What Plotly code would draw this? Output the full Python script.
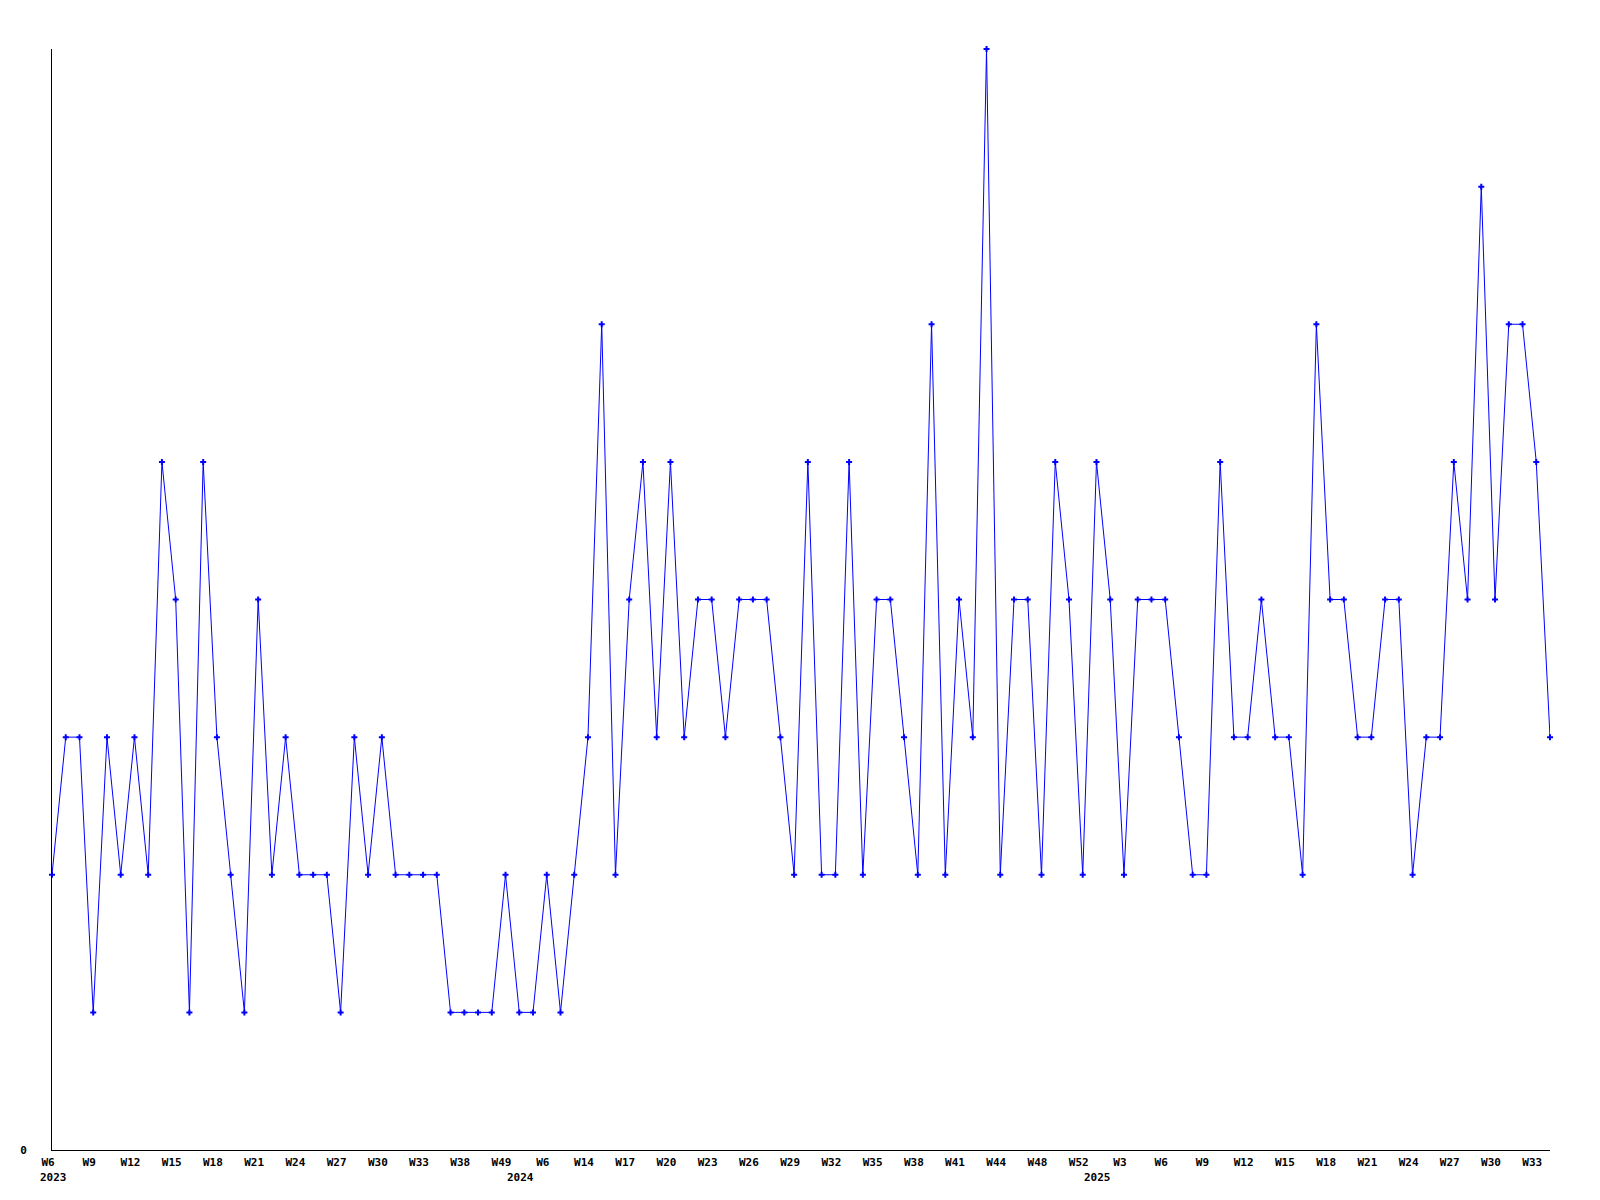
import plotly.graph_objects as go

# ---- data ----
weeks_2023 = [f"W{w}" for w in range(6, 36)] + ["W38", "W41", "W45", "W49"]
weeks_2024 = ["W1", "W3", "W6", "W9", "W11"] + [f"W{w}" for w in range(14, 45)] + ["W45", "W47", "W48", "W50", "W51", "W52"]
weeks_2025 = [f"W{w}" for w in range(1, 35)]

weeks = weeks_2023 + weeks_2024 + weeks_2025
years = ["2023"] * len(weeks_2023) + ["2024"] * len(weeks_2024) + ["2025"] * len(weeks_2025)

values = [
    2, 3, 3, 1, 3, 2, 3, 2, 5, 4,
    1, 5, 3, 2, 1, 4, 2, 3, 2, 2,
    2, 1, 3, 2, 3, 2, 2, 2, 2, 1,
    1, 1, 1, 2, 1, 1, 2, 1, 2, 3,
    6, 2, 4, 5, 3, 5, 3, 4, 4, 3,
    4, 4, 4, 3, 2, 5, 2, 2, 5, 2,
    4, 4, 3, 2, 6, 2, 4, 3, 8, 2,
    4, 4, 2, 5, 4, 2, 5, 4, 2, 4,
    4, 4, 3, 2, 2, 5, 3, 3, 4, 3,
    3, 2, 6, 4, 4, 3, 3, 4, 4, 2,
    3, 3, 5, 4, 7, 4, 6, 6, 5, 3,
]

xs = list(range(len(values)))
tick_idx = xs[::3]
tick_txt = [weeks[i] for i in tick_idx]

# first point of each year gets the year label
year_marks = []
for i, y in enumerate(years[: len(values)]):
    if i == 0 or years[i - 1] != y:
        year_marks.append((i, y))

FONT = dict(family="DejaVu Sans Mono", size=11, color="#000000", weight="bold")

fig = go.Figure()
fig.add_trace(go.Scatter(
    x=xs, y=values, mode="lines+markers",
    line=dict(color="#0000ff", width=1),
    marker=dict(symbol="cross", size=5, color="#0000ff"),
    cliponaxis=False,
    hoverinfo="skip",
))

for i, y in year_marks:
    fig.add_annotation(
        x=i, y=0, xref="x", yref="paper", text=y, showarrow=False,
        xanchor="left", yanchor="middle", xshift=-14, yshift=-27, font=FONT,
    )

# page body has an 8px margin, so the figure is sized/offset to compensate
fig.update_layout(
    width=1592, height=1192,
    margin=dict(l=42, r=50, t=41, b=50),
    paper_bgcolor="white", plot_bgcolor="white",
    showlegend=False,
    font=FONT,
)
fig.update_xaxes(
    range=[0, len(values) - 1], showgrid=False, zeroline=False,
    showline=True, linecolor="#000000", linewidth=1,
    tickmode="array", tickvals=tick_idx, ticktext=tick_txt,
    ticks="outside", ticklen=0, ticklabelstandoff=2, ticklabelshift=-4,
    tickfont=FONT,
)
fig.update_yaxes(
    range=[0, 8], showgrid=False, zeroline=False,
    showline=True, linecolor="#000000", linewidth=1,
    tickmode="array", tickvals=[0], ticktext=["0"],
    ticks="outside", ticklen=0, ticklabelstandoff=22,
    tickfont=FONT,
)

fig.write_html("out.html")
